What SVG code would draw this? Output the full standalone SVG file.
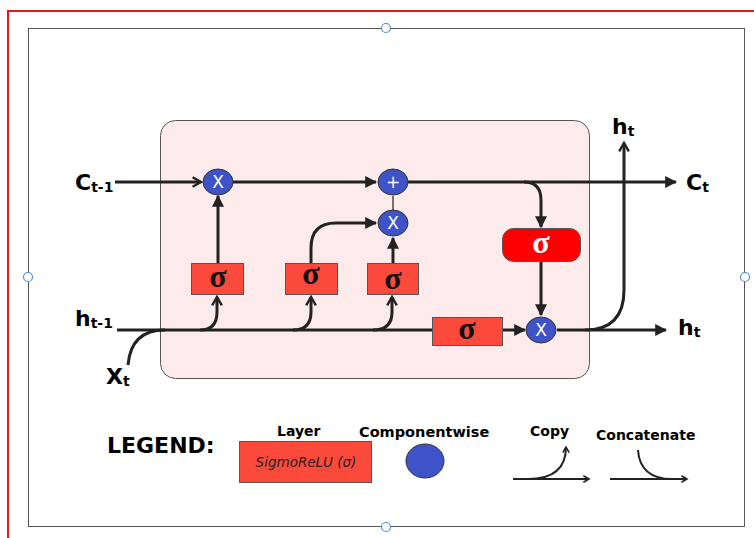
<svg xmlns="http://www.w3.org/2000/svg" width="754" height="538" viewBox="0 0 754 538">
<defs>
<marker id="ah" viewBox="0 0 10 10" refX="9" refY="5" markerWidth="4" markerHeight="4" orient="auto-start-reverse"><path d="M0,0 L10,5 L0,10 z" fill="#222"/></marker>
<marker id="oh" viewBox="0 0 10 10" refX="8" refY="5" markerWidth="4" markerHeight="4" orient="auto"><path d="M1,1 L8,5 L1,9" fill="none" stroke="#222" stroke-width="2"/></marker>
</defs>
<style>
.ln{fill:none;stroke:#222;stroke-width:3}
.thin{fill:none;stroke:#222;stroke-width:1.2}
.lay{fill:#fb4a3c;stroke:#555;stroke-width:1}
.op{fill:#3d53c7;stroke:#333;stroke-width:1}
.opt{font-family:"DejaVu Sans",sans-serif;font-size:17px;fill:#fff;text-anchor:middle}
.sig{font-family:"Liberation Serif","DejaVu Serif",serif;font-size:32px;font-weight:bold;fill:#111;text-anchor:middle}
.lbl{font-family:"DejaVu Sans",sans-serif;font-weight:bold;fill:#000}
.hnd{fill:#fff;stroke:#4a90e2;stroke-width:1.2}
</style>
<rect width="754" height="538" fill="#fff"/>
<path d="M8,538 V11 H754" fill="none" stroke="#e21a1a" stroke-width="2"/>
<rect x="28.5" y="28.5" width="716" height="498" fill="none" stroke="#555" stroke-width="1"/>
<circle class="hnd" cx="386" cy="28" r="4.5"/>
<circle class="hnd" cx="386" cy="527" r="4.5"/>
<circle class="hnd" cx="28" cy="277" r="4.5"/>
<circle class="hnd" cx="745" cy="277" r="4.5"/>
<g id="cell"><rect x="160.5" y="120.5" width="429" height="258" rx="15" fill="#fdebeb" stroke="#555" stroke-width="1"/></g>
<g id="connectors">
<path class="ln" d="M115,182 H201" marker-end="url(#oh)"/>
<path class="ln" d="M233,182 H376" marker-end="url(#ah)"/>
<path class="ln" d="M408,182 H676" marker-end="url(#ah)"/>
<path class="ln" d="M524,182 Q541,182 541,200 V227" marker-end="url(#ah)"/>
<path class="ln" d="M541,262 V315" marker-end="url(#ah)"/>
<path class="thin" d="M393,210 V196"/>
<path class="ln" d="M218,263 V196" marker-end="url(#ah)"/>
<path class="ln" d="M311,263 V248 Q311,223 336,223 H376" marker-end="url(#ah)"/>
<path class="ln" d="M393,263 V238" marker-end="url(#ah)"/>
<path class="ln" d="M117,330 H432"/>
<path class="ln" d="M128,365 Q131,330 165,330"/>
<path class="ln" d="M200,330 Q217,330 217,312 V297" marker-end="url(#oh)"/>
<path class="ln" d="M293,330 Q311,330 311,312 V297" marker-end="url(#oh)"/>
<path class="ln" d="M373,330 Q392,330 392,312 V297" marker-end="url(#oh)"/>
<path class="ln" d="M502,330 H525" marker-end="url(#ah)"/>
<path class="ln" d="M557,330 H666" marker-end="url(#ah)"/>
<path class="ln" d="M585,330 Q624,330 624,290 V143" marker-end="url(#oh)"/>
</g>
<g id="op-mul1"><ellipse class="op" cx="218" cy="182" rx="15" ry="13"/><text class="opt" x="218" y="188">X</text></g>
<g id="op-add"><ellipse class="op" cx="393" cy="182" rx="15" ry="13"/><text class="opt" x="393" y="188">+</text></g>
<g id="op-mul2"><ellipse class="op" cx="393" cy="223" rx="15" ry="13"/><text class="opt" x="393" y="229">X</text></g>
<g id="op-mul3"><ellipse class="op" cx="541" cy="330" rx="15" ry="13"/><text class="opt" x="541" y="336">X</text></g>
<g id="sig1"><rect class="lay" x="191.5" y="263.5" width="52" height="31"/><text class="sig" x="218" y="287">σ</text></g>
<g id="sig2"><rect class="lay" x="285.5" y="263.5" width="52" height="31"/><text class="sig" x="311" y="284">σ</text></g>
<g id="sig3"><rect class="lay" x="367.5" y="263.5" width="51" height="31"/><text class="sig" x="393" y="289">σ</text></g>
<g id="sig4"><rect class="lay" x="432.5" y="317.5" width="70" height="28"/><text class="sig" x="467" y="339">σ</text></g>
<g id="tanh"><rect x="502.5" y="228.5" width="78" height="33" rx="11" fill="#fe0000" stroke="#555" stroke-width="1"/><text class="sig" x="541" y="253" style="fill:#fff">σ</text></g>
<g id="labels">
<text class="lbl" x="75" y="190" font-size="22">C<tspan font-size="14" dy="2">t-1</tspan></text>
<text class="lbl" x="686" y="190" font-size="22">C<tspan font-size="14" dy="2">t</tspan></text>
<text class="lbl" x="75" y="326" font-size="22">h<tspan font-size="14" dy="2">t-1</tspan></text>
<text class="lbl" x="678" y="335" font-size="22">h<tspan font-size="14" dy="2">t</tspan></text>
<text class="lbl" x="612" y="134" font-size="22">h<tspan font-size="14" dy="2">t</tspan></text>
<text class="lbl" x="106" y="384" font-size="22">X<tspan font-size="14" dy="2">t</tspan></text>
</g>
<g id="legend">
<text class="lbl" x="107" y="453" font-size="22">LEGEND:</text>
<text class="lbl" x="277" y="436" font-size="14">Layer</text>
<rect class="lay" x="239.5" y="441.5" width="132" height="41"/>
<text x="306" y="467" font-family="DejaVu Sans,sans-serif" font-style="italic" font-size="13.5" fill="#222" text-anchor="middle">SigmoReLU (σ)</text>
<text class="lbl" x="359" y="437" font-size="14.5">Componentwise</text>
<ellipse class="op" cx="425" cy="461" rx="19" ry="17"/>
<text class="lbl" x="530" y="436" font-size="14">Copy</text>
<path class="thin" d="M513,479 H589" style="stroke-width:2" marker-end="url(#oh)"/>
<path class="thin" d="M528,479 Q566,479 566,447" style="stroke-width:2" marker-end="url(#oh)"/>
<text class="lbl" x="596" y="440" font-size="14">Concatenate</text>
<path class="thin" d="M610,479 H687" style="stroke-width:2" marker-end="url(#oh)"/>
<path class="thin" d="M638,450 Q640,479 672,479" style="stroke-width:2"/>
</g>
</svg>
